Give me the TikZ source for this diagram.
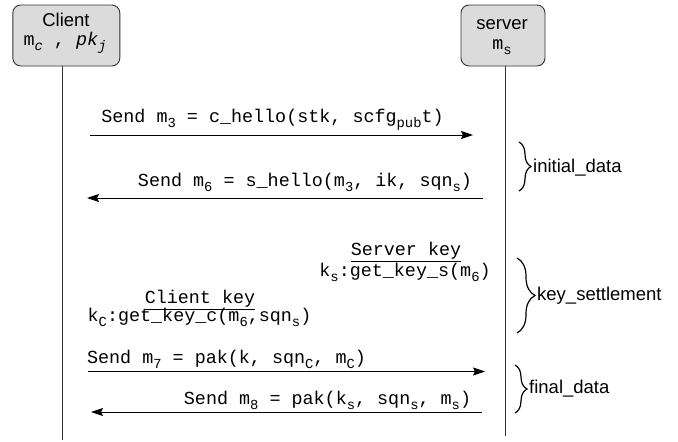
\documentclass[tikz,border=0pt]{standalone}
\usepackage{fontspec}
\setmainfont{Liberation Sans}
\setmonofont{Liberation Mono}
\usetikzlibrary{arrows.meta,decorations.pathreplacing}
\newcommand\sbs[1]{\raisebox{-5pt}{\fontsize{13.8}{14}\selectfont #1}}
\tikzset{
  actor/.style={draw=black!80, fill=black!14, rounded corners=8pt, line width=0.9pt},
  life/.style={line width=1pt, draw=black!80},
  msg/.style={line width=1pt, -{Stealth[length=12pt,width=8pt,inset=2pt]}},
  mono/.style={font=\fontsize{18.4}{22}\selectfont\ttfamily, inner sep=0pt},
  sans/.style={font=\fontsize{18.5}{22}\selectfont, inner sep=0pt},
  br/.style={decorate, decoration={brace, amplitude=#1}, line width=1.2pt},
}
\begin{document}
\begin{tikzpicture}[x=1pt,y=-1pt]
\useasboundingbox[fill=white] (0,0) rectangle (678,442);
% actors
\node[actor, minimum width=107pt, minimum height=61pt] (client) at (66.3,35.5) {};
\node[actor, minimum width=84pt, minimum height=61pt] (server) at (503,35.5) {};
\node[sans, anchor=base] (ctitle) at (66,26.7) {Client};
\node[mono, anchor=base] (csub) at (65,45.5) {m\sbs{\textit{c}} , \textit{pk}\sbs{\textit{j}}};
\node[sans, anchor=base] (stitle) at (502,29.5) {server};
\node[mono, anchor=base] (ssub) at (502,49) {m\sbs{s}};
% lifelines
\coordinate (cend) at (62.3,440);
\coordinate (send) at (505.7,436);
\draw[life] (client.south -| cend) -- (cend);
\draw[life] (server.south -| send) -- (send);
% messages
\coordinate (a1s) at (90,135);   \coordinate (a1e) at (473,135);
\coordinate (a2s) at (483,198);  \coordinate (a2e) at (87,198);
\coordinate (a3s) at (88,371.5); \coordinate (a3e) at (485,371.5);
\coordinate (a4s) at (482,412);  \coordinate (a4e) at (91,412);
\draw[msg] (a1s) -- (a1e);
\draw[msg] (a2s) -- (a2e);
\draw[msg] (a3s) -- (a3e);
\draw[msg] (a4s) -- (a4e);
\node[mono, anchor=base] (t1) at (272.5,122.7) {Send m\sbs{3} = c\_hello(stk, scfg\sbs{pub}t)};
\node[mono, anchor=base] (t2) at (305,186) {Send m\sbs{6} = s\_hello(m\sbs{3}, ik, sqn\sbs{s})};
\node[mono, anchor=base] (t3) at (226.5,363) {Send m\sbs{7} = pak(k, sqn\sbs{C}, m\sbs{C})};
\node[mono, anchor=base] (t4) at (327.5,404) {Send m\sbs{8} = pak(k\sbs{s}, sqn\sbs{s}, m\sbs{s})};
% keys
\node[mono, anchor=base] (skey) at (406,255.5) {\underline{Server key}};
\node[mono, anchor=base] (skey2) at (405,276.5) {k\sbs{s}:get\_key\_s(m\sbs{6})};
\node[mono, anchor=base] (ckey) at (200,303.5) {\underline{Client key}};
\node[mono, anchor=base] (ckey2) at (199.5,321.5) {k\sbs{C}:get\_key\_c(m\sbs{6},sqn\sbs{s})};
% braces
\coordinate (b1t) at (519,142); \coordinate (b1b) at (519,191);
\coordinate (b2t) at (517,258); \coordinate (b2b) at (517,333);
\coordinate (b3t) at (515,365); \coordinate (b3b) at (515,413);
\draw[br=12pt] (b1t) -- (b1b);
\draw[br=18pt] (b2t) -- (b2b);
\draw[br=12pt] (b3t) -- (b3b);
\node[sans, anchor=west] (l1) at (533,168) {initial\_data};
\node[sans, anchor=west] (l2) at (537,296) {key\_settlement};
\node[sans, anchor=west] (l3) at (529,389) {final\_data};
\end{tikzpicture}
\end{document}
